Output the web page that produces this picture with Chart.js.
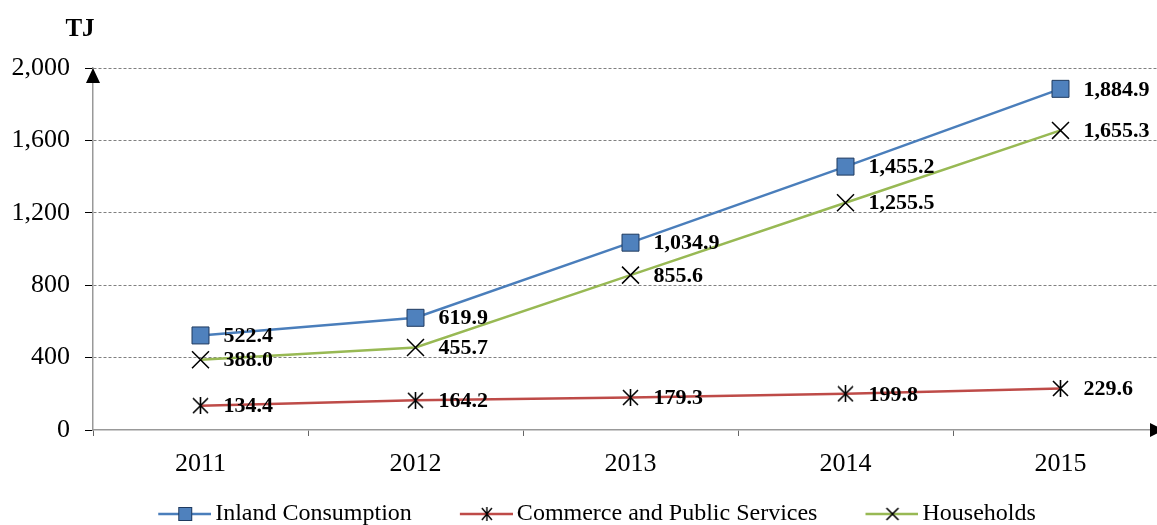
<!DOCTYPE html>
<html>
<head>
<meta charset="utf-8">
<script src="https://cdn.jsdelivr.net/npm/chart.js@4"></script>
<style>
  body { margin: 0; background: #fff; }
  #marco { width: 1157px; height: 525px; overflow: hidden; position: relative; }
  #grafica { max-width: none; }
</style>
</head>
<body>
<div id="marco"><canvas id="grafica" width="1170" height="540"></canvas></div>
<script>
(function(){

    // datos
    const categorias = ['2011', '2012', '2013', '2014', '2015'];
    const consumoInterno = [522.4, 619.9, 1034.9, 1455.2, 1884.9];
    const comercio = [134.4, 164.2, 179.3, 199.8, 229.6];
    const hogares = [388.0, 455.7, 855.6, 1255.5, 1655.3];
    const ticksY = [0, 400, 800, 1200, 1600, 2000];
    const nombres = ['Inland Consumption', 'Commerce and Public Services', 'Households'];
    const unidad = 'TJ';

    const fuente = "'Liberation Serif', 'Times New Roman', serif";
    const azul = '#4A7EBB', rojo = '#BE4B48', verde = '#98B954';

    function estrella(tam) {
        const c = document.createElement('canvas');
        c.width = tam; c.height = tam;
        const g = c.getContext('2d');
        g.strokeStyle = '#000';
        g.lineWidth = 1.6;
        const m = tam / 2;
        g.beginPath();
        g.moveTo(m, 0); g.lineTo(m, tam);
        g.moveTo(1, 1); g.lineTo(tam - 1, tam - 1);
        g.moveTo(tam - 1, 1); g.lineTo(1, tam - 1);
        g.stroke();
        return c;
    }

    function iconoLeyenda(color, marca) {
        const W = 99, H = 20;
        const c = document.createElement('canvas');
        c.width = W; c.height = H;
        const g = c.getContext('2d');
        const x0 = W - 53, cx = W - 26, cy = H / 2;
        g.strokeStyle = color;
        g.lineWidth = 2.5;
        g.beginPath(); g.moveTo(x0, cy); g.lineTo(W, cy); g.stroke();
        g.strokeStyle = '#000';
        g.lineWidth = 1.4;
        if (marca === 'cuadro') {
            g.fillStyle = '#4F81BD';
            g.fillRect(cx - 7, cy - 7, 14, 14);
            g.strokeStyle = '#1F3A5F';
            g.lineWidth = 1;
            g.strokeRect(cx - 6.5, cy - 6.5, 13, 13);
        } else if (marca === 'estrella') {
            g.beginPath();
            g.moveTo(cx, cy - 7); g.lineTo(cx, cy + 7);
            g.moveTo(cx - 5, cy - 6); g.lineTo(cx + 5, cy + 6);
            g.moveTo(cx + 5, cy - 6); g.lineTo(cx - 5, cy + 6);
            g.stroke();
        } else {
            g.lineWidth = 1.6;
            g.beginPath();
            g.moveTo(cx - 6, cy - 6); g.lineTo(cx + 6, cy + 6);
            g.moveTo(cx + 6, cy - 6); g.lineTo(cx - 6, cy + 6);
            g.stroke();
        }
        return c;
    }

    const iconos = [
        iconoLeyenda(azul, 'cuadro'),
        iconoLeyenda(rojo, 'estrella'),
        iconoLeyenda(verde, 'cruz')
    ];

    const etiquetas = {
        id: 'etiquetas',
        afterDatasetsDraw(chart) {
            const ctx = chart.ctx;
            ctx.save();
            ctx.font = 'bold 22px ' + fuente;
            ctx.fillStyle = '#000';
            ctx.textAlign = 'left';
            ctx.textBaseline = 'middle';
            chart.data.datasets.forEach((ds, i) => {
                chart.getDatasetMeta(i).data.forEach((pt, j) => {
                    const txt = ds.data[j].toLocaleString('en-US', {minimumFractionDigits: 1, maximumFractionDigits: 1});
                    ctx.fillText(txt, pt.x + 23, pt.y + 1);
                });
            });
            ctx.restore();
        }
    };

    const flechas = {
        id: 'flechas',
        afterLayout(chart) {
            // la leyenda va un poco a la izquierda
            chart.legend.left -= 6;
            chart.legend.right -= 6;
        },
        afterDraw(chart) {
            const {ctx, chartArea} = chart;
            ctx.save();
            ctx.fillStyle = '#000';
            // flecha eje y
            ctx.beginPath();
            ctx.moveTo(chartArea.left, chartArea.top);
            ctx.lineTo(chartArea.left - 7, chartArea.top + 15);
            ctx.lineTo(chartArea.left + 7, chartArea.top + 15);
            ctx.closePath();
            ctx.fill();
            // flecha eje x
            ctx.beginPath();
            ctx.moveTo(1164, chartArea.bottom);
            ctx.lineTo(1150, chartArea.bottom - 7);
            ctx.lineTo(1150, chartArea.bottom + 7);
            ctx.closePath();
            ctx.fill();
            // unidad
            ctx.font = 'bold 25px ' + fuente;
            ctx.textAlign = 'center';
            ctx.textBaseline = 'middle';
            ctx.fillText(unidad, chartArea.left - 13, chartArea.top - 38);
            ctx.restore();
        }
    };

    Chart.defaults.font.family = fuente;
    Chart.defaults.color = '#000';

    const ctx = document.getElementById('grafica').getContext('2d');
    const myChart = new Chart(ctx, {
        type: 'line',
        data: {
            labels: categorias,
            datasets: [{
                label: nombres[0],
                data: consumoInterno,
                borderColor: azul,
                borderWidth: 2.5,
                pointStyle: 'rect',
                pointRadius: 12,
                pointBackgroundColor: '#4F81BD',
                pointBorderColor: '#1F3A5F',
                pointBorderWidth: 1
            }, {
                label: nombres[1],
                data: comercio,
                borderColor: rojo,
                borderWidth: 2.5,
                pointStyle: estrella(17),
                pointRadius: 9
            }, {
                label: nombres[2],
                data: hogares,
                borderColor: verde,
                borderWidth: 2.5,
                pointStyle: 'crossRot',
                pointRadius: 12,
                pointBorderColor: '#000',
                pointBorderWidth: 1.5
            }]
        },
        options: {
            responsive: false,
            animation: false,
            devicePixelRatio: 1,
            layout: {
                autoPadding: false,
                padding: {top: 68, left: 0, right: 2, bottom: 4}
            },
            scales: {
                x: {
                    offset: true,
                    grid: {
                        offset: true,
                        drawOnChartArea: false,
                        tickLength: 6,
                        color: '#666'
                    },
                    border: {color: '#999', width: 1.5},
                    ticks: {
                        font: {size: 26},
                        padding: 13,
                        maxRotation: 0
                    },
                    afterFit(scale) {
                        scale.height = 62;
                        scale.paddingLeft = 0;
                        scale.paddingRight = 0;
                    }
                },
                y: {
                    min: 0,
                    max: 2000,
                    afterBuildTicks(scale) {
                        scale.ticks = ticksY.map(v => ({value: v}));
                    },
                    grid: {
                        color: (c) => c.tick && c.tick.value === 0 ? 'rgba(0,0,0,0)' : '#808080',
                        tickColor: '#000',
                        tickLength: 8,
                        lineWidth: 1
                    },
                    border: {color: '#999', width: 1.5, dash: [3, 2]},
                    ticks: {
                        font: {size: 26},
                        padding: 15
                    },
                    afterFit(scale) { scale.width = 93; }
                }
            },
            plugins: {
                legend: {
                    position: 'bottom',
                    labels: {
                        usePointStyle: true,
                        pointStyleWidth: 83,
                        padding: 10,
                        font: {size: 24},
                        color: '#000',
                        generateLabels(chart) {
                            const items = Chart.defaults.plugins.legend.labels.generateLabels(chart);
                            items.forEach((it, i) => { it.pointStyle = iconos[i]; });
                            return items;
                        }
                    }
                },
                tooltip: {enabled: false}
            }
        },
        plugins: [etiquetas, flechas]
    });

})();
</script>
</body>
</html>
